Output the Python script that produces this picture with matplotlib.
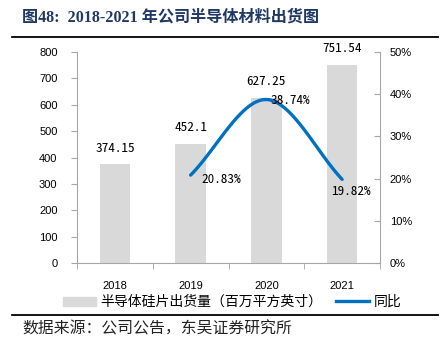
import numpy as np
import matplotlib
matplotlib.use('Agg')
import matplotlib.pyplot as plt
from matplotlib.ticker import FuncFormatter, FixedLocator
from matplotlib.lines import Line2D
from matplotlib.patches import Patch

# data
years = ['2018', '2019', '2020', '2021']
shipments = [374.15, 452.1, 627.25, 751.54]
yoy_years = [1, 2, 3]
yoy = [20.83, 38.74, 19.82]
bar_labels = ['374.15', '452.1', '627.25', '751.54']
yoy_labels = ['20.83%', '38.74%', '19.82%']

CJK = ['Noto Sans CJK SC', 'DejaVu Sans']
MONO = ['Noto Sans Mono CJK SC', 'DejaVu Sans Mono']
TICKF = ['Liberation Sans', 'DejaVu Sans']
bar_col = '#d9d9d9'
line_col = '#0070c0'
axis_col = '#a6a6a6'

def smooth(x, y, n=60):
    # catmull-rom like smoothing (like excel smoothed line)
    x = np.asarray(x, float); y = np.asarray(y, float)
    px = np.concatenate([[2*x[0]-x[1]], x, [2*x[-1]-x[-2]]])
    py = np.concatenate([[2*y[0]-y[1]], y, [2*y[-1]-y[-2]]])
    xs, ys = [], []
    for i in range(1, len(px)-2):
        t = np.linspace(0, 1, n)
        p0, p1, p2, p3 = [np.array([px[j], py[j]]) for j in range(i-1, i+3)]
        c1 = p1 + (p2 - p0) / 6.0
        c2 = p2 - (p3 - p1) / 6.0
        pts = ((1-t)**3)[:, None]*p1 + (3*(1-t)**2*t)[:, None]*c1 + (3*(1-t)*t**2)[:, None]*c2 + (t**3)[:, None]*p2
        xs.append(pts[:, 0]); ys.append(pts[:, 1])
    return np.concatenate(xs), np.concatenate(ys)

W, H = 444, 358
fig = plt.figure(figsize=(W/100, H/100), dpi=100)

# title + rules
fig.text(22/W, 1-18/H, '图48:  2018-2021 年公司半导体材料出货图', family=['Liberation Serif', 'Noto Sans CJK SC'],
         fontweight='bold', fontsize=11.6, color='#1f3864', va='center', ha='left')
fig.add_artist(Line2D([12/W, 438/W], [1-37/H, 1-37/H], color='black', lw=1.3))
fig.add_artist(Line2D([12/W, 438/W], [1-315/H, 1-315/H], color='black', lw=1.3))
fig.text(22/W, 1-329/H, '数据来源：公司公告，东吴证券研究所', family=CJK, fontsize=11.4, color='#222222',
         va='center', ha='left')

ax = fig.add_axes([77/W, 1-263/H, (380-77)/W, (263-52)/H])
x = np.arange(len(years))
ax.bar(x, shipments, width=0.4, color=bar_col, zorder=1)
ax.set_xlim(-0.5, 3.5)
ax.set_ylim(0, 800)
ax.set_yticks(np.arange(0, 801, 100))
ax.set_xticks(x)
ax.set_xticklabels(years, family=TICKF, fontsize=8)
ax.xaxis.set_minor_locator(FixedLocator([-0.5, 0.5, 1.5, 2.5, 3.5]))
ax.tick_params(axis='x', which='major', length=0, pad=13)
ax.tick_params(axis='x', which='minor', length=4, color=axis_col, direction='out')
ax.tick_params(axis='y', length=4, color=axis_col, labelsize=8, pad=10)
for lab in ax.get_yticklabels():
    lab.set_family(TICKF)
for s in ['top', 'right']:
    ax.spines[s].set_visible(False)
for s in ['left', 'bottom']:
    ax.spines[s].set_color(axis_col)

for xi, v, lab in zip(x, shipments, bar_labels):
    ax.annotate(lab, (xi, v), xytext=(0, 7), textcoords='offset points', ha='center', va='bottom',
                family=MONO, fontsize=9.5)

ax2 = ax.twinx()
ax2.set_ylim(0, 50)
ax2.set_yticks(np.arange(0, 51, 10))
ax2.yaxis.set_major_formatter(FuncFormatter(lambda v, p: '%d%%' % v))
ax2.tick_params(axis='y', length=4, color=axis_col, labelsize=8, pad=7, direction='in')
for lab in ax2.get_yticklabels():
    lab.set_family(TICKF)
for s in ['top', 'left', 'bottom']:
    ax2.spines[s].set_visible(False)
ax2.spines['right'].set_color(axis_col)

sx, sy = smooth(yoy_years, yoy)
ax2.plot(sx, sy, color=line_col, lw=2.4, solid_capstyle='round', zorder=3)

offs = [(8, -3, 'left', 'center'), (3, -1, 'left', 'center'), (6, -4, 'center', 'top')]
for xi, v, lab, (dx, dy, ha, va) in zip(yoy_years, yoy, yoy_labels, offs):
    ax2.annotate(lab, (xi, v), xytext=(dx, dy), textcoords='offset points', ha=ha, va=va,
                 family=MONO, fontsize=9.5)

handles = [Patch(color=bar_col), Line2D([], [], color=line_col, lw=2.4)]
fig.legend(handles, ['半导体硅片出货量（百万平方英寸）', '同比'], loc='center', bbox_to_anchor=(232/W, 1-302/H),
           ncol=2, frameon=False, prop={'family': CJK, 'size': 10}, handlelength=2.4, handleheight=0.6,
           columnspacing=1.0, handletextpad=0.3)

fig.savefig('out.png', dpi=100)
